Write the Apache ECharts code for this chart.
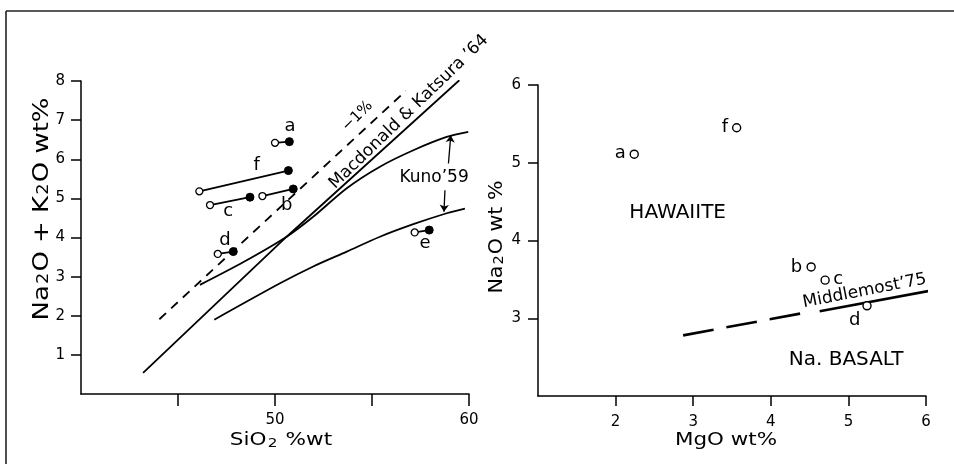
<!DOCTYPE html>
<html>
<head>
<meta charset="utf-8">
<script src="https://cdn.jsdelivr.net/npm/echarts@6/dist/echarts.min.js"></script>
<style>
  html, body { margin: 0; background: #fff; }
  #main { width: 954px; height: 464px; }
</style>
</head>
<body>
<div id="main"></div>
<script>
// left panel: SiO2 vs Na2O+K2O, each sample is an open -> filled pair
const sampleIds = ['a', 'b', 'c', 'd', 'e', 'f'];
const openSiO2 = [50.0, 49.35, 46.65, 47.05, 57.2, 46.1];
const openAlk = [6.42, 5.06, 4.83, 3.58, 4.13, 5.18];
const fillSiO2 = [50.74, 50.94, 48.71, 47.85, 57.95, 50.69];
const fillAlk = [6.45, 5.24, 5.03, 3.64, 4.19, 5.71];
const leftTagX = [50.77, 50.6, 47.59, 47.42, 57.73, 49.06];
const leftTagY = [6.83, 4.83, 4.66, 3.94, 3.85, 5.85];

// dividing lines
const mkSiO2 = [43.2, 50.6, 59.5];
const mkAlk = [0.54, 4.02, 8.02];
const kunoUpSiO2 = [46.13, 48.4, 50.6, 51.97, 53.7, 55.41, 57.13, 58.85, 59.96];
const kunoUpAlk = [2.79, 3.38, 4.02, 4.53, 5.26, 5.81, 6.23, 6.57, 6.70];
const kunoLoSiO2 = [46.87, 50.26, 51.97, 53.7, 55.41, 57.13, 58.85, 59.79];
const kunoLoAlk = [1.90, 2.83, 3.26, 3.64, 4.02, 4.34, 4.62, 4.74];
const minus1SiO2 = [44.04, 56.75];
const minus1Alk = [1.91, 7.75];
const arrowFrom = [[58.94, 5.89], [58.76, 5.21]];
const arrowTo = [[59.06, 6.61], [58.71, 4.66]];

// right panel: MgO vs Na2O
const rightIds = ['a', 'b', 'c', 'd', 'f'];
const mgo = [2.24, 4.52, 4.70, 5.24, 3.56];
const na2o = [5.11, 3.66, 3.49, 3.16, 5.45];
const rightTagX = [2.06, 4.33, 4.87, 5.08, 3.41];
const rightTagY = [5.12, 3.66, 3.50, 2.97, 5.46];
const mmSolidMgO = [4.63, 6.09];
const mmSolidNa = [3.09, 3.36];
const mmDashMgO = [2.87, 4.38];
const mmDashNa = [2.78, 3.06];

const FONT = 'DejaVu Sans';
const INK = '#000';

const chart = echarts.init(document.getElementById('main'));

function zipXY(xs, ys) {
  return xs.map((x, i) => [x, ys[i]]);
}

function curve(xi, yi, xs, ys, opts) {
  return Object.assign({
    type: 'line', xAxisIndex: xi, yAxisIndex: yi,
    data: zipXY(xs, ys), showSymbol: false, symbol: 'none',
    lineStyle: { color: INK, width: 1.8 }, silent: true, z: 3
  }, opts || {});
}

function tags(xi, yi, xs, ys, texts, size, rotate) {
  return {
    type: 'scatter', xAxisIndex: xi, yAxisIndex: yi, symbolSize: 0, silent: true, z: 10,
    itemStyle: { color: INK, opacity: 1 },
    data: xs.map((x, i) => ({ value: [x, ys[i]], name: texts[i] })),
    label: {
      show: true, position: 'inside', formatter: '{b}', color: INK, opacity: 1,
      textBorderWidth: 0, textBorderColor: 'transparent',
      fontFamily: FONT, fontSize: size, rotate: rotate || 0,
      align: 'center', verticalAlign: 'middle'
    }
  };
}

function axisName(x, y, text, size, sx, rot) {
  return {
    type: 'text', x: x, y: y, rotation: rot || 0, scaleX: sx, silent: true,
    style: {
      text: text, fill: INK, fontFamily: FONT, fontSize: size,
      align: 'center', verticalAlign: 'middle',
      rich: { s: { fontSize: Math.round(size * 0.68), fontFamily: FONT, fill: INK, padding: [5, 1, 0, 1] } }
    }
  };
}

const series = [];

series.push(curve(0, 0, mkSiO2, mkAlk));
series.push(curve(0, 0, kunoUpSiO2, kunoUpAlk, { smooth: 0.3 }));
series.push(curve(0, 0, kunoLoSiO2, kunoLoAlk, { smooth: 0.3 }));
series.push(curve(0, 0, minus1SiO2, minus1Alk, { lineStyle: { color: INK, width: 1.8, type: [9, 7] } }));

series.push({
  type: 'lines', coordinateSystem: 'cartesian2d', xAxisIndex: 0, yAxisIndex: 0,
  symbol: ['none', 'arrow'], symbolSize: 7, silent: true,
  lineStyle: { color: INK, width: 1.3, opacity: 1 },
  data: arrowFrom.map((p, i) => ({ coords: [p, arrowTo[i]] }))
});

sampleIds.forEach((id, i) => {
  series.push({
    type: 'line', xAxisIndex: 0, yAxisIndex: 0, silent: true, z: 5,
    symbol: 'circle', symbolSize: 7, showSymbol: true,
    lineStyle: { color: INK, width: 1.8 },
    data: [
      { value: [openSiO2[i], openAlk[i]], itemStyle: { color: '#fff', borderColor: INK, borderWidth: 1.3 } },
      { value: [fillSiO2[i], fillAlk[i]], symbolSize: 8, itemStyle: { color: INK, borderColor: INK } }
    ]
  });
});

series.push(tags(0, 0, leftTagX, leftTagY, sampleIds, 18));
series.push(tags(0, 0, [58.2], [5.54], ["Kuno\u201959"], 17));
series.push(tags(0, 0, [54.25], [7.1], ["\u22121%"], 15, 45));
series.push(tags(0, 0, [56.9], [7.21], ["Macdonald & Katsura \u201964"], 17, 44));

// right panel
series.push(curve(1, 1, mmSolidMgO, mmSolidNa, { lineStyle: { color: INK, width: 2.6 } }));
series.push(curve(1, 1, mmDashMgO, mmDashNa, { lineStyle: { color: INK, width: 2.6, type: [31, 13] } }));
series.push({
  type: 'scatter', xAxisIndex: 1, yAxisIndex: 1, silent: true, z: 5,
  symbol: 'circle', symbolSize: 8,
  itemStyle: { color: '#fff', borderColor: INK, borderWidth: 1.4, opacity: 1 },
  data: zipXY(mgo, na2o)
});
series.push(tags(1, 1, rightTagX, rightTagY, rightIds, 18));
series.push(tags(1, 1, [2.80], [4.36], ['HAWAIITE'], 20));
series.push(tags(1, 1, [4.97], [2.46], ['Na. BASALT'], 20));
series.push(tags(1, 1, [5.21], [3.35], ["Middlemost\u201975"], 17, 11));

const axisBase = {
  type: 'value',
  splitLine: { show: false },
  axisLine: { show: true, onZero: false, lineStyle: { color: INK, width: 1.5 } },
  axisTick: { show: true, length: 10, lineStyle: { color: INK, width: 1.5 } },
  axisLabel: { color: INK, fontFamily: FONT, fontSize: 15 }
};

function mkAxis(extra) {
  const a = JSON.parse(JSON.stringify(axisBase));
  Object.keys(extra).forEach(k => {
    if (typeof extra[k] === 'object' && !Array.isArray(extra[k]) && a[k]) Object.assign(a[k], extra[k]);
    else a[k] = extra[k];
  });
  return a;
}

chart.setOption({
  animation: false,
  backgroundColor: '#fff',
  textStyle: { fontFamily: FONT },
  grid: [
    { left: 81, right: 485, top: 81, bottom: 70, outerBoundsMode: 'none' },
    { left: 538, right: 28, top: 85, bottom: 68, outerBoundsMode: 'none' }
  ],
  xAxis: [
    mkAxis({ gridIndex: 0, min: 40, max: 60, interval: 5,
      axisTick: { length: 12, customValues: [45, 50, 55, 60] },
      axisLabel: { margin: 19, customValues: [50, 60] } }),
    mkAxis({ gridIndex: 1, min: 1, max: 6, interval: 1,
      axisTick: { customValues: [2, 3, 4, 5, 6] },
      axisLabel: { margin: 19, customValues: [2, 3, 4, 5, 6] } })
  ],
  yAxis: [
    mkAxis({ gridIndex: 0, min: 0, max: 8, interval: 1,
      axisTick: { customValues: [1, 2, 3, 4, 5, 6, 7, 8] },
      axisLabel: { margin: 16, customValues: [1, 2, 3, 4, 5, 6, 7, 8] } }),
    mkAxis({ gridIndex: 1, min: 2, max: 6, interval: 1,
      axisTick: { customValues: [3, 4, 5, 6] },
      axisLabel: { margin: 17, customValues: [3, 4, 5, 6] } })
  ],
  graphic: [
    { type: 'line', silent: true, shape: { x1: 6, y1: 11, x2: 954, y2: 11 }, style: { stroke: '#222', lineWidth: 1.6 } },
    { type: 'line', silent: true, shape: { x1: 6, y1: 11, x2: 6, y2: 464 }, style: { stroke: '#222', lineWidth: 1.6 } },
    axisName(42, 209, 'Na{s|2}O + K{s|2}O wt%', 22, 1.18, Math.PI / 2),
    axisName(281, 441, 'SiO{s|2} %wt', 17, 1.27),
    axisName(497, 237, 'Na{s|2}O wt %', 20, 1.03, Math.PI / 2),
    axisName(726, 440, 'MgO wt%', 18, 1.19)
  ],
  series: series
});
</script>
</body>
</html>
